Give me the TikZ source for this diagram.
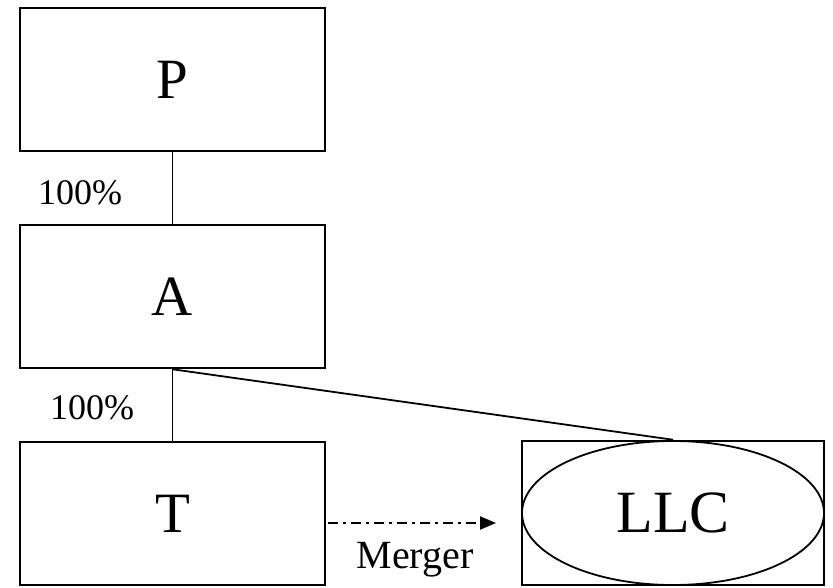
\documentclass[tikz,border=0pt]{standalone}
\usepackage{fontspec}
\setmainfont{Liberation Serif}
\usetikzlibrary{arrows.meta,shapes.geometric}
\begin{document}
\begin{tikzpicture}[x=1pt, y=-1pt,
    entity/.style={draw, line width=2.5pt, minimum width=305pt, minimum height=143pt, inner sep=0pt, font=\fontsize{57}{57}\selectfont},
    share/.style={font=\fontsize{36}{36}\selectfont}]
    \useasboundingbox (0, 0) rectangle (833, 587);
    \node[entity] (P) at (172.5, 79.5) {P};
    \node[entity] (A) at (172.5, 296.5) {A};
    \node[entity] (T) at (172.5, 513.5) {T};
    \node[draw, line width=2.5pt, minimum width=302pt, minimum height=144pt, inner sep=0pt] (llcbox) at (673, 513) {};
    \node[ellipse, draw, line width=1.8pt, minimum width=302pt, minimum height=144pt, inner sep=0pt, font=\fontsize{60}{60}\selectfont] (LLC) at (llcbox.center) {LLC};
    \node[share] (pa) at (80, 193) {100\%};
    \node[share] (at) at (92, 408) {100\%};
    \draw[line width=1.2pt] (P.south)--(A.north);
    \draw[line width=1.2pt] (A.south)--(T.north);
    \draw[line width=1.8pt] (A.south)--(llcbox.north);
    \coordinate (mstart) at (328, 523);
    \coordinate (mend) at (496, 523);
    \draw[line width=2.2pt, dash pattern=on 10pt off 5pt on 3pt off 5pt, -{Triangle[length=16pt, width=13pt]}] (mstart)--(mend);
    \node[font=\fontsize{40}{40}\selectfont] (merger) at (415, 560) {Merger};
  \end{tikzpicture}
\end{document}
